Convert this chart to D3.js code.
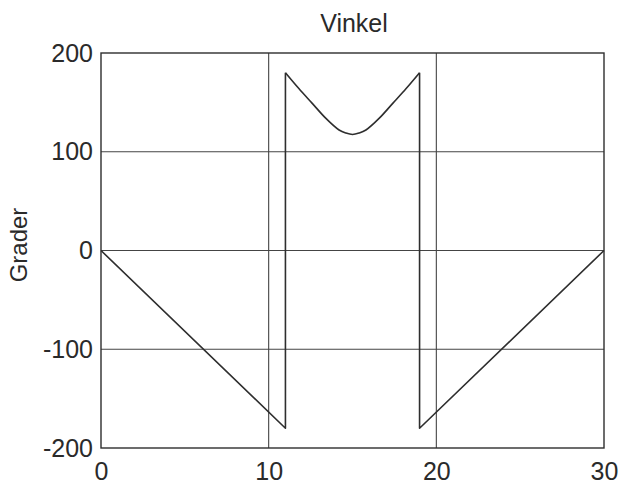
<!DOCTYPE html>
<html>
<head>
<meta charset="utf-8">
<script src="https://cdn.jsdelivr.net/npm/d3@7"></script>
<style>
  html, body { margin: 0; padding: 0; background: #fff; }
  svg { display: block; }
  text { font-family: "Liberation Sans", Arial, sans-serif; fill: #2a2a2a; }
</style>
</head>
<body>
<svg id="chart" width="623" height="487"></svg>
<script>
// Angle (degrees) versus position
const xTicks = [0, 10, 20, 30];
const yTicks = [-200, -100, 0, 100, 200];
const tickLabelsX = ["0", "10", "20", "30"];
const tickLabelsY = ["-200", "-100", "0", "100", "200"];

// Falling ramp, jump at ~11, arc between the jumps, rising ramp
const angleX = [0, 11, 11, 11.8, 12.6, 13.4, 14.2, 14.6, 15, 15.4, 15.8, 16.6, 17.4, 18.2, 19, 19, 30];
const angleY = [0, -180, 180, 164, 149, 134, 122, 119, 117.5, 119, 122, 134, 149, 164, 180, -180, 0];

const titleText = "Vinkel";
const yLabelText = "Grader";

const svg = d3.select("#chart");
const margin = { left: 101, top: 53, right: 19, bottom: 39 };
const W = 623, H = 487;

const x = d3.scaleLinear().domain([0, 30]).range([margin.left, W - margin.right]);
const y = d3.scaleLinear().domain([-200, 200]).range([H - margin.bottom, margin.top]);

const ink = "#2e2e2e";

// grid lines
const grid = svg.append("g");
grid.selectAll("line.gx").data(xTicks.slice(1, -1)).enter().append("line")
  .attr("x1", d => x(d)).attr("x2", d => x(d))
  .attr("y1", y(-200)).attr("y2", y(200))
  .attr("stroke", "#444").attr("stroke-width", 1.1);
grid.selectAll("line.gy").data(yTicks.slice(1, -1)).enter().append("line")
  .attr("y1", d => y(d)).attr("y2", d => y(d))
  .attr("x1", x(0)).attr("x2", x(30))
  .attr("stroke", "#444").attr("stroke-width", 1.1);

// frame
svg.append("rect")
  .attr("x", x(0)).attr("y", y(200))
  .attr("width", x(30) - x(0)).attr("height", y(-200) - y(200))
  .attr("fill", "none").attr("stroke", ink).attr("stroke-width", 1.4);

// tick labels via d3 axes (tick lines hidden under the grid)
const xAxis = d3.axisBottom(x).tickValues(xTicks).tickFormat((d, i) => tickLabelsX[i]).tickSize(0).tickPadding(14);
const yAxis = d3.axisLeft(y).tickValues(yTicks).tickFormat((d, i) => tickLabelsY[i]).tickSize(0).tickPadding(8);

const gx = svg.append("g").attr("transform", `translate(0,${y(-200)})`).call(xAxis);
const gy = svg.append("g").attr("transform", `translate(${x(0)},0)`).call(yAxis);
[gx, gy].forEach(g => {
  g.select(".domain").remove();
  g.selectAll("text").attr("font-size", 25).attr("font-family", "Liberation Sans, Arial, sans-serif").attr("fill", "#2a2a2a");
});

// curve
const pts = angleX.map((v, i) => [v, angleY[i]]);
const lin = d3.line().x(d => x(d[0])).y(d => y(d[1]));
const smooth = d3.line().x(d => x(d[0])).y(d => y(d[1])).curve(d3.curveCatmullRom.alpha(0.5));

const g = svg.append("g").attr("fill", "none").attr("stroke", ink).attr("stroke-width", 1.6).attr("stroke-linejoin", "round");
g.append("path").attr("d", lin(pts.slice(0, 3)));
g.append("path").attr("d", smooth(pts.slice(2, 15)));
g.append("path").attr("d", lin(pts.slice(14)));

// title
svg.append("text").attr("x", 354).attr("y", 32).attr("text-anchor", "middle")
  .attr("font-size", 25).text(titleText);

// y label
svg.append("text").attr("transform", "translate(27,245) rotate(-90)")
  .attr("text-anchor", "middle").attr("font-size", 24).text(yLabelText);
</script>
</body>
</html>
